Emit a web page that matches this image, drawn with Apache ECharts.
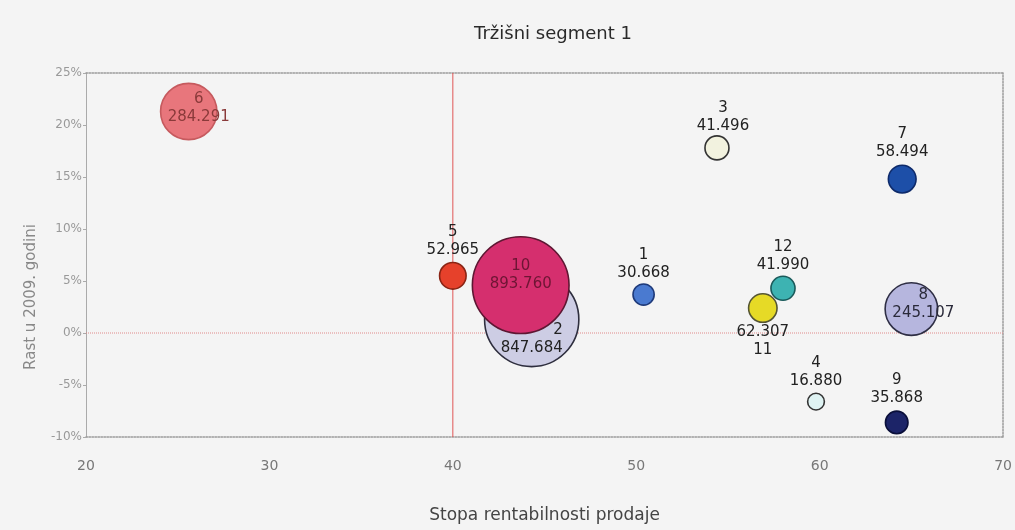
<!DOCTYPE html>
<html>
<head>
<meta charset="utf-8">
<script src="https://cdn.jsdelivr.net/npm/echarts@6/dist/echarts.min.js"></script>
<style>html,body{margin:0;padding:0;background:#f4f4f4;}#c{width:1015px;height:530px;}</style>
</head>
<body>
<div id="c"></div>
<script>
// ---- data (drawing order) ----
const ids     = [6, 5, 2, 10, 1, 3, 12, 11, 7, 8, 4, 9];
const xVals   = [25.6, 40.0, 44.3, 43.7, 50.4, 54.4, 58.0, 56.9, 64.5, 65.0, 59.8, 64.2];
const yVals   = [21.3, 5.5, 1.3, 4.6, 3.7, 17.8, 4.3, 2.4, 14.8, 2.3, -6.6, -8.6];
const sizes   = [284.291, 52.965, 847.684, 893.760, 30.668, 41.496, 41.990, 62.307, 58.494, 245.107, 16.880, 35.868];
const xTicks  = [20, 30, 40, 50, 60, 70];
const yTicks  = [-10, -5, 0, 5, 10, 15, 20, 25];
const refX = 40, refY = 0;

// ---- styles ----
const fills   = {6:'#e8767c',5:'#e6412b',2:'#cdcde4',10:'#d52f6e',1:'#4a7ad0',3:'#f2f2df',12:'#3db3b2',11:'#e6da26',7:'#1d4fa8',8:'#b6b6de',4:'#dff3f3',9:'#1c2468'};
const borders = {6:'#c65a5e',5:'#8a2414',2:'#2e2e3e',10:'#5e1632',1:'#1e3a7a',3:'#333333',12:'#1a5a5a',11:'#555533',7:'#0e2a6a',8:'#2e2e44',4:'#333333',9:'#0a0f3a'};
const labelCfg = {
  6:{position:'inside',offset:[10,-3],color:'#8a3a3a'},
  10:{position:'inside',offset:[0,-10],color:'#6e1534'},
  2:{position:'inside',offset:[0,20],color:'#222',align:'right'},
  8:{position:'inside',offset:[12,-5],color:'#2a2a3a'},
  11:{position:'bottom',distance:0,color:'#222',flip:true},
  5:{position:'top',distance:3,color:'#222'},
  1:{position:'top',distance:1,color:'#222'},
  3:{position:'top',distance:0,color:'#222',offset:[6,0]},
  12:{position:'top',distance:1,color:'#222'},
  7:{position:'top',distance:3,color:'#222'},
  4:{position:'top',distance:2,color:'#222'},
  9:{position:'top',distance:3,color:'#222'}
};
const fmt = v => v.toFixed(3);
const FONT = 'DejaVu Sans';

const data = ids.map((id, i) => {
  const lc = labelCfg[id];
  const rich = {
    a:{fontFamily:FONT,fontSize:15,lineHeight:18,color:lc.color,align:lc.align||'center'},
  };
  return {
    name: String(id),
    value: [xVals[i], yVals[i], sizes[i]],
    symbolSize: 4 + 3.1 * Math.sqrt(sizes[i]),
    itemStyle: {color: fills[id], borderColor: borders[id], borderWidth: 1.6, opacity: 1},
    label: {
      show: true,
      position: lc.position,
      distance: lc.distance !== undefined ? lc.distance : 5,
      offset: lc.offset || [0,0],
      formatter: lc.flip ? '{a|' + fmt(sizes[i]) + '}\n{a|' + id + '}' : '{a|' + id + '}\n{a|' + fmt(sizes[i]) + '}',
      rich: rich
    }
  };
});

const yMin = yTicks[0], yMax = yTicks[yTicks.length-1];
const xMin = xTicks[0], xMax = xTicks[xTicks.length-1];
const frameLine = {show: true, onZero: false, lineStyle: {color: '#9a9a9a', type: 'dotted', width: 1.5}};

const chart = echarts.init(document.getElementById('c'));
chart.setOption({
  backgroundColor: '#f4f4f4',
  animation: false,
  title: {
    text: 'Tržišni segment 1',
    left: 548, top: 20, textAlign: 'center',
    textStyle: {fontFamily: FONT, fontSize: 18, fontWeight: 'normal', color: '#2a2a2a'}
  },
  grid: {left: 86, right: 11, top: 73, bottom: 93},
  xAxis: [{
    type: 'value', min: xMin, max: xMax, interval: 10,
    name: 'Stopa rentabilnosti prodaje', nameLocation: 'middle', nameGap: 70,
    nameTextStyle: {fontFamily: FONT, fontSize: 17, color: '#444'},
    axisLine: frameLine,
    axisTick: {show: false},
    splitLine: {show: false},
    axisLabel: {margin: 22, fontFamily: FONT, fontSize: 14, color: '#777'}
  }, {
    type: 'value', position: 'top', min: xMin, max: xMax,
    axisLine: frameLine,
    axisTick: {show: false}, axisLabel: {show: false}, splitLine: {show: false}
  }],
  yAxis: [{
    type: 'value', min: yMin, max: yMax, interval: 5,
    axisLine: {show: true, onZero: false, lineStyle: {color: '#aaa', width: 1}},
    axisTick: {show: true, length: 3, lineStyle: {color: '#aaa'}},
    splitLine: {show: false},
    axisLabel: {fontFamily: FONT, fontSize: 12, color: '#999', margin: 4, formatter: v => v + '%'}
  }, {
    type: 'value', position: 'right', min: yMin, max: yMax,
    axisLine: frameLine,
    axisTick: {show: false}, axisLabel: {show: false}, splitLine: {show: false}
  }],
  graphic: [{
    type: 'text', x: 31, y: 297, rotation: Math.PI / 2,
    style: {text: 'Rast u 2009. godini', align: 'center', verticalAlign: 'middle',
            fontFamily: FONT, fontSize: 15, fill: '#888'}
  }],
  series: [{
    type: 'line', z: 1, symbol: 'none', silent: true,
    data: [[refX, yMin], [refX, yMax]],
    lineStyle: {color: '#e05555', width: 1}
  }, {
    type: 'line', z: 1, symbol: 'none', silent: true,
    data: [[xMin, refY], [xMax, refY]],
    lineStyle: {color: '#e08a8a', width: 1, type: 'dotted'}
  }, {
    type: 'scatter', z: 3,
    data: data
  }]
});
</script>
</body>
</html>
